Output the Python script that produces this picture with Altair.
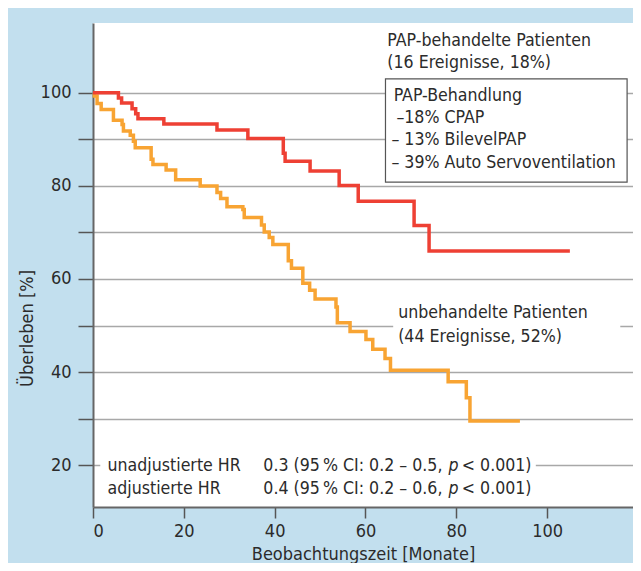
import altair as alt
import pandas as pd

# ---------------- data ----------------
pap_months = [0, 5.6, 6.3, 8.6, 9.4, 9.9, 15.6, 27.3, 34.1, 41.9, 42.3, 47.8, 54.2, 58.4, 70.7, 74.0, 105.0]
pap_surv = [100, 98.9, 97.8, 96.6, 95.5, 94.4, 93.3, 92.0, 90.2, 87.0, 85.3, 83.2, 80.1, 76.7, 71.5, 66.0, 66.0]

untreated_months = [0, 0.3, 0.9, 1.8, 4.5, 6.4, 6.7, 8.2, 8.9, 9.3, 12.8, 13.2, 16.1, 18.2, 23.6,
                    27.3, 28.1, 29.5, 33.0, 33.3, 37.1, 37.7, 38.8, 39.6, 43.0, 43.7, 46.2, 47.7,
                    48.9, 53.5, 53.8, 56.6, 60.1, 61.6, 64.3, 65.5, 78.2, 82.2, 83.0, 94.0]
untreated_surv = [100, 99.3, 97.7, 96.4, 94.1, 93.2, 91.8, 90.9, 89.6, 88.2, 85.7, 84.6, 83.4, 81.3, 80.0,
                  78.6, 77.3, 75.5, 74.9, 73.2, 71.6, 70.1, 68.9, 67.4, 63.9, 62.3, 59.1, 57.6,
                  55.7, 54.0, 50.6, 48.7, 47.0, 44.9, 42.9, 40.4, 37.9, 34.5, 29.5, 29.5]

groups = ["unbehandelt", "PAP"]
group_colors = ["#f8a433", "#ee4034"]

x_ticks = [0, 20, 40, 60, 80, 100]
y_ticks = [20, 30, 40, 50, 60, 70, 80, 90, 100]

pap_title = ["PAP-behandelte Patienten", "(16 Ereignisse, 18%)"]
pap_box_lines = ["PAP-Behandlung", "\u201318% CPAP", "\u2013 13% BilevelPAP", "\u2013 39% Auto Servoventilation"]
untreated_lines = ["unbehandelte Patienten", "(44 Ereignisse, 52%)"]
hr_labels = ["unadjustierte HR", "adjustierte HR"]
hr_values = ["0.3 (95\u202f% CI: 0.2 \u2013 0.5,", "0.4 (95\u202f% CI: 0.2 \u2013 0.6,"]
hr_p = ["p", "p"]
hr_tail = ["< 0.001)", "< 0.001)"]

# ---------------- layout (annotation placement, in data units) ----------------
FONT = "DejaVu Sans Condensed, Liberation Sans Narrow, Open Sans, sans-serif"
FS = 18
FS_NOTE = 17.6
TXT = "#2b2b2b"

curves = pd.concat([
    pd.DataFrame({"month": untreated_months, "surv": untreated_surv, "group": groups[0]}),
    pd.DataFrame({"month": pap_months, "surv": pap_surv, "group": groups[1]}),
])

xscale = alt.Scale(domain=[0, 118.9], nice=False, zero=False)
yscale = alt.Scale(domain=[11, 115], nice=False, zero=False)

x_axis = alt.Axis(values=x_ticks, title="Beobachtungszeit [Monate]", grid=False,
                  tickSize=11, tickColor="#555555", tickWidth=1.5,
                  domainColor="#666666", domainWidth=2,
                  labelFont=FONT, labelFontSize=FS, labelColor=TXT, labelPadding=4,
                  titleFont=FONT, titleFontSize=FS, titleFontWeight="normal", titleColor=TXT,
                  titleY=47, titleBaseline="middle")
y_axis = alt.Axis(values=y_ticks, title="Überleben [%]", grid=True,
                  gridColor="#a8a8a8", gridWidth=1.3,
                  labelExpr="datum.value % 20 === 0 ? datum.label : ''",
                  tickSize=15, tickColor="#555555", tickWidth=1.5,
                  domainColor="#666666", domainWidth=2,
                  labelFont=FONT, labelFontSize=FS, labelColor=TXT, labelPadding=7,
                  titleFont=FONT, titleFontSize=FS, titleFontWeight="normal", titleColor=TXT,
                  titleX=-66, titleY=305, titleAngle=270, titleAlign="center", titleBaseline="middle")

lines = alt.Chart(curves).mark_line(interpolate="step-after", strokeWidth=3.5).encode(
    x=alt.X("month:Q", scale=xscale, axis=x_axis),
    y=alt.Y("surv:Q", scale=yscale, axis=y_axis),
    color=alt.Color("group:N", scale=alt.Scale(domain=groups, range=group_colors), legend=None),
    order=alt.Order("month:Q"),
)

# white backgrounds behind text blocks (they interrupt the grid lines)
bg = pd.DataFrame({
    "x1": [1.6, 66.1], "x2": [97.5, 116.1],
    "y1": [12.5, 45.2], "y2": [22.2, 55.0],
})
bg_layer = alt.Chart(bg).mark_rect(color="white").encode(
    x=alt.X("x1:Q", scale=xscale), x2="x2:Q",
    y=alt.Y("y1:Q", scale=yscale), y2="y2:Q",
)

box = pd.DataFrame({"x1": [64.4], "x2": [117.6], "y1": [80.8], "y2": [103.0]})
box_layer = alt.Chart(box).mark_rect(fill="white", stroke="#555555", strokeWidth=1.2).encode(
    x=alt.X("x1:Q", scale=xscale), x2="x2:Q",
    y=alt.Y("y1:Q", scale=yscale), y2="y2:Q",
)

texts = pd.DataFrame({
    "text": pap_title + pap_box_lines + untreated_lines + hr_labels + hr_values + hr_tail,
    "x": [64.8, 64.8, 66.2, 66.8, 65.7, 65.7, 67.2, 67.2, 3.2, 3.2, 37.5, 37.5, 81.2, 81.2],
    "y": [111.2, 106.3, 99.4, 94.6, 89.8, 85.0, 52.7, 47.6, 19.9, 14.8, 19.9, 14.8, 19.9, 14.8],
})
text_layer = alt.Chart(texts).mark_text(align="left", baseline="middle", font=FONT, fontSize=FS_NOTE,
                                        color=TXT).encode(
    x=alt.X("x:Q", scale=xscale), y=alt.Y("y:Q", scale=yscale), text="text:N",
)
ptexts = pd.DataFrame({"text": hr_p, "x": [78.3, 78.3], "y": [19.9, 14.8]})
p_layer = alt.Chart(ptexts).mark_text(align="left", baseline="middle", font=FONT, fontSize=FS_NOTE, color=TXT,
                                      fontStyle="italic").encode(
    x=alt.X("x:Q", scale=xscale), y=alt.Y("y:Q", scale=yscale), text="text:N",
)

chart = alt.layer(bg_layer, box_layer, lines, text_layer, p_layer).properties(
    width=540, height=484,
    background="#c2dfee",
    padding={"left": 85, "top": 15, "right": 0, "bottom": 56},
    autosize=alt.AutoSizeParams(type="none"),
).configure_view(fill="white", stroke=None)

chart.save("out.html", embed_options={"renderer": "svg", "actions": False})
